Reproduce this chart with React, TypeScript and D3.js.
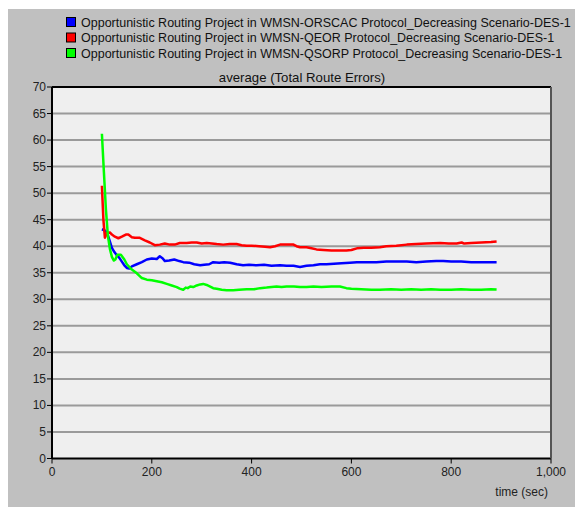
import React from "react";
import * as d3 from "d3";

const seriesNames = [
  "Opportunistic Routing Project in WMSN-ORSCAC Protocol_Decreasing Scenario-DES-1",
  "Opportunistic Routing Project in WMSN-QEOR Protocol_Decreasing Scenario-DES-1",
  "Opportunistic Routing Project in WMSN-QSORP Protocol_Decreasing Scenario-DES-1",
];
const seriesColors = ["#0000ff", "#ff0000", "#00ff00"];

const blueT = [100,105,110,115,120,125,130,135,140,145,150,155,160,170,180,190,200,210,216,222,226,235,245,255,263,275,285,297,305,315,323,335,345,357,370,383,395,410,425,440,457,470,484,497,510,524,537,550,565,580,597,611,630,650,670,690,711,730,750,770,784,800,820,840,860,880,891];
const blueV = [43.2,43.0,42.6,41.2,39.7,38.9,38.3,37.8,37.1,36.4,35.9,35.8,36.2,36.6,37.0,37.5,37.7,37.6,38.1,37.7,37.2,37.3,37.5,37.2,37.0,36.9,36.6,36.4,36.5,36.6,37.0,36.9,37.0,36.9,36.6,36.4,36.5,36.4,36.5,36.3,36.4,36.3,36.3,36.1,36.3,36.4,36.6,36.6,36.7,36.8,36.9,37.0,37.0,37.0,37.1,37.1,37.1,37.0,37.1,37.2,37.2,37.1,37.1,37.0,37.0,37.0,37.0];

const redT = [100,103,106,110,116,120,126,133,140,148,153,160,166,175,186,196,206,216,226,236,246,256,270,280,290,300,310,320,330,343,356,370,380,390,400,415,427,437,447,457,470,484,490,497,510,520,530,544,560,575,590,600,611,625,640,657,670,690,711,730,750,778,795,811,816,821,826,840,860,880,891];
const redV = [51.4,45.0,41.6,42.5,42.6,42.2,41.8,41.5,41.8,42.2,42.2,41.7,41.6,41.6,41.1,40.7,40.2,40.3,40.5,40.3,40.3,40.6,40.6,40.7,40.7,40.5,40.6,40.5,40.4,40.3,40.4,40.4,40.2,40.1,40.1,40.0,39.9,39.8,40.0,40.3,40.3,40.3,40.0,39.8,39.8,39.6,39.4,39.3,39.2,39.2,39.2,39.3,39.6,39.7,39.7,39.8,40.0,40.1,40.3,40.4,40.5,40.6,40.5,40.5,40.6,40.7,40.5,40.6,40.7,40.8,40.9];

const greenT = [100,104,108,112,116,120,124,127,131,138,145,150,160,170,180,190,200,210,220,230,240,250,256,263,268,272,277,283,290,297,303,310,317,323,330,340,350,363,375,390,405,417,430,440,450,460,470,485,497,510,524,540,560,577,590,600,620,640,657,680,700,720,740,760,778,800,820,840,860,880,891];
const greenV = [61.2,54.0,47.0,42.0,39.5,38.0,37.3,37.5,38.4,38.4,37.5,36.6,35.6,34.9,34.0,33.7,33.6,33.4,33.2,32.9,32.6,32.3,32.0,31.8,32.2,32.1,32.4,32.3,32.6,32.8,32.9,32.7,32.4,32.1,32.0,31.8,31.7,31.7,31.8,31.9,31.9,32.1,32.2,32.3,32.4,32.3,32.4,32.4,32.3,32.3,32.4,32.3,32.4,32.4,32.1,32.0,31.9,31.8,31.8,31.9,31.8,31.9,31.8,31.9,31.8,31.8,31.9,31.8,31.8,31.9,31.85];

const yTicks = [0,5,10,15,20,25,30,35,40,45,50,55,60,65,70];
const xTicks = [0,200,400,600,800,1000];

const chartTitle = "average (Total Route Errors)";
const xAxisTitle = "time (sec)";

export default function App() {
  const W = 575, H = 509;
  const x = d3.scaleLinear().domain([0, 1000]).range([52, 551]);
  const y = d3.scaleLinear().domain([0, 70]).range([458.5, 87]);
  const line = d3.line<[number, number]>().x(d => x(d[0])).y(d => y(d[1]));
  const series = [
    blueT.map((t, i) => [t, blueV[i]] as [number, number]),
    redT.map((t, i) => [t, redV[i]] as [number, number]),
    greenT.map((t, i) => [t, greenV[i]] as [number, number]),
  ];
  const fmt = d3.format(",");
  const font = "'Liberation Sans', Arial, sans-serif";
  return (
    <svg width={W} height={H} style={{ position: "absolute", left: 0, top: 0 }} fontFamily={font}>
      <rect x={0} y={0} width={W} height={H} fill="#ffffff" />
      <rect x={8} y={9} width={W - 8} height={498} fill="#c0c0c0" />
      {seriesNames.map((n, i) => (
        <g key={n}>
          <rect x={66.5} y={17.5 + i * 15.5} width={9} height={9} fill={seriesColors[i]} stroke="#000" strokeWidth={1} />
          <text x={81} y={26.5 + i * 15.5} fontSize={12.5} fill="#111">{n}</text>
        </g>
      ))}
      <text x={302} y={82} fontSize={13.2} textAnchor="middle" fill="#111">{chartTitle}</text>
      <rect x={x(0)} y={y(70)} width={x(1000) - x(0)} height={y(0) - y(70)} fill="#efefef" />
      {yTicks.filter(t => t > 0 && t < 70).map(t => (
        <line key={t} x1={x(0)} x2={x(1000)} y1={y(t)} y2={y(t)} stroke="#9a9a9a" strokeWidth={2} />
      ))}
      {series.map((s, i) => (
        <path key={i} d={line(s) || ""} fill="none" stroke={seriesColors[i]} strokeWidth={2.5} strokeLinejoin="round" />
      ))}
      <line x1={x(0)} x2={x(1000)} y1={y(70)} y2={y(70)} stroke="#000" strokeWidth={2} />
      <line x1={x(0)} x2={x(1000)} y1={y(0)} y2={y(0)} stroke="#000" strokeWidth={2} />
      <line x1={x(0)} x2={x(0)} y1={y(70)} y2={y(0)} stroke="#000" strokeWidth={2} />
      <line x1={x(1000)} x2={x(1000)} y1={y(70)} y2={y(0)} stroke="#555" strokeWidth={2} />
      {yTicks.map(t => (
        <g key={t}>
          <line x1={x(0) - 5} x2={x(0)} y1={y(t)} y2={y(t)} stroke="#000" strokeWidth={1} />
          <text x={x(0) - 6} y={y(t) + 4} fontSize={12} textAnchor="end" fill="#222">{t}</text>
        </g>
      ))}
      {xTicks.map(t => (
        <g key={t}>
          <line x1={x(t)} x2={x(t)} y1={y(0)} y2={y(0) + 5} stroke="#000" strokeWidth={1} />
          <text x={x(t)} y={y(0) + 17} fontSize={12} textAnchor="middle" fill="#222">{fmt(t)}</text>
        </g>
      ))}
      <text x={548} y={496} fontSize={12} textAnchor="end" fill="#222">{xAxisTitle}</text>
    </svg>
  );
}
